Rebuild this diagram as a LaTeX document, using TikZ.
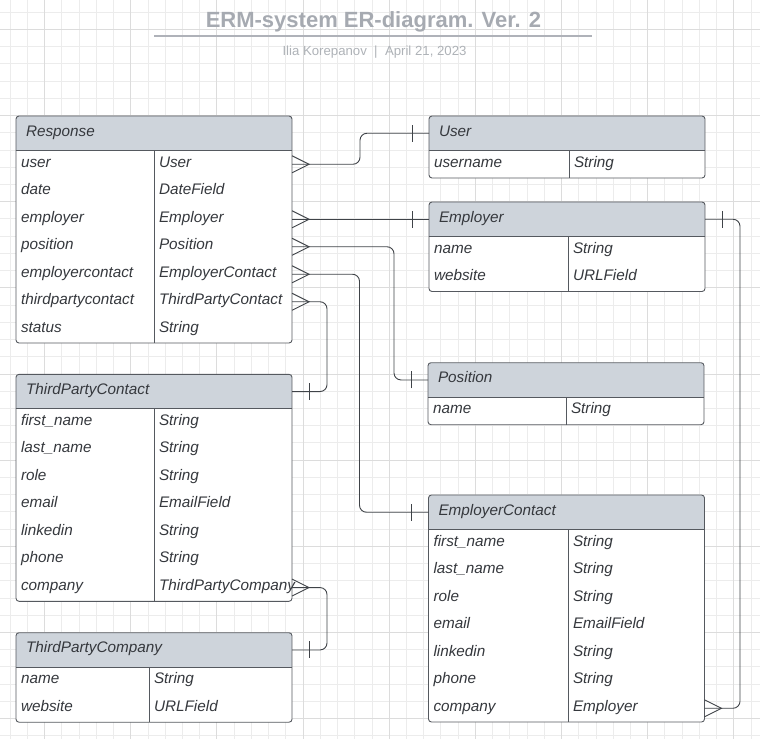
\documentclass[tikz,border=0pt]{standalone}
\usepackage{fontspec}
\setmainfont{Liberation Sans}
\definecolor{ink}{HTML}{35383D}
\definecolor{framecol}{HTML}{55595F}
\definecolor{linkcol}{HTML}{3F4348}
\definecolor{hdrfill}{HTML}{CED4DB}
\definecolor{titlegray}{HTML}{A6AAB1}
\definecolor{subgray}{HTML}{AEB2B7}
\definecolor{gridminor}{HTML}{ECECEC}
\definecolor{gridmajor}{HTML}{DCDCDC}
\newcommand{\fieldfont}{\itshape\fontsize{15.3}{18}\selectfont}
% name, top left, rows, divider, title, fields
\newcommand{\ertable}[6]{%
  \node[tbl, minimum height={34.5pt+27.5pt*#3}] (#1) at (#2) {};
  \node[hdr] (#1-h) at (#1.north west) {#5};
  \draw[rule] (#1-h.south west) -- (#1-h.south east);
  \draw[rule] ([xshift=#4pt]#1-h.south west) -- ([xshift=#4pt]#1.south west);
  \foreach \fname/\ftype [count=\i] in {#6} {
    \node[fld] (#1-\i) at ([xshift=5pt,yshift={13.75pt-27.5pt*\i}]#1-h.south west) {\fname};
    \node[fld] (#1-t\i) at ([xshift=#4pt]#1-\i.west) {\ftype};
  }%
}
\begin{document}
\begin{tikzpicture}[x=1pt,y=-1pt,
tbl/.style={
draw=framecol,
line width=0.9pt,
rounded corners=3pt,
fill=white,
anchor=north west,
minimum width=276pt,
inner sep=0pt,
outer sep=0pt,
path picture={\fill[hdrfill,sharp corners] (path picture bounding box.north west) rectangle ([yshift=-34.5pt]path picture bounding box.north east);}
},
hdr/.style={
anchor=north west,
text width=256pt,
inner xsep=10pt,
inner ysep=0pt,
outer sep=0pt,
minimum height=34.5pt,
align=left,
text height=9pt,
text depth=3.4pt,
font=\fieldfont,
text=ink
},
fld/.style={
anchor=west,
inner sep=0pt,
outer sep=0pt,
text height=9pt,
text depth=3.4pt,
font=\fieldfont,
text=ink
},
rule/.style={draw=framecol,line width=0.9pt},
tip/.style={draw=linkcol,line width=0.9pt},
link/.style={tip,rounded corners=7pt},
many/.pic={\draw[tip] (0,-8.5) -- (17,0) -- (0,8.5);},
one/.pic={\draw[tip] (17,-8.5) -- (17,8.5);},
]
\useasboundingbox (0,0) rectangle (760,739);

% grid
\foreach \k in {0,...,43} \draw[gridminor,line width=0.8pt] (10.1+17.23*\k,0) -- (10.1+17.23*\k,739);
\foreach \k in {0,...,42} \draw[gridminor,line width=0.8pt] (0,12.1+17.23*\k) -- (760,12.1+17.23*\k);
\foreach \k in {0,...,8} \draw[gridmajor,line width=0.8pt] (44.56+86.15*\k,0) -- (44.56+86.15*\k,739);
\foreach \k in {0,...,8} \draw[gridmajor,line width=0.8pt] (0,29.33+86.15*\k) -- (760,29.33+86.15*\k);

% title
\node (title) [anchor=base,font=\bfseries\fontsize{22}{26}\selectfont,text=titlegray] at (373.5,27.7) {ERM-system ER-diagram. Ver. 2};
\draw[titlegray!90,line width=1.8pt] (154,36) -- (592,36);
\node (author) [anchor=base,font=\fontsize{13.2}{16}\selectfont,text=subgray] at (374.5,55) {Ilia Korepanov~~|~~April 21, 2023};

% tables
\ertable{resp}{16,116}{7}{138}{Response}{user/User, date/DateField, employer/Employer, position/Position, employercontact/EmployerContact, thirdpartycontact/ThirdPartyContact, status/String}
\ertable{user}{429,116}{1}{140}{User}{username/String}
\ertable{empl}{429,202}{2}{139}{Employer}{name/String, website/URLField}
\ertable{pos}{428,362.7}{1}{138}{Position}{name/String}
\ertable{ec}{428.5,495}{7}{139.5}{EmployerContact}{first\_name/String, last\_name/String, role/String, email/EmailField, linkedin/String, phone/String, company/Employer}
\ertable{tpc}{16,374.3}{7}{138}{ThirdPartyContact}{first\_name/String, last\_name/String, role/String, email/EmailField, linkedin/String, phone/String, company/ThirdPartyCompany}
\ertable{tpco}{16,632.7}{2}{133}{ThirdPartyCompany}{name/String, website/URLField}

% relations
\draw[link] (resp.east |- resp-1) -| ([xshift=-69pt]user-h.west) -- (user-h.west);
\draw[link] (resp.east |- resp-3) -- (empl-h.west);
\draw[link] (resp.east |- resp-4) -| ([xshift=-34pt]pos-h.west) -- (pos-h.west);
\draw[link] (resp.east |- resp-5) -| ([xshift=-69pt]ec-h.west) -- (ec-h.west);
\draw[link] (resp.east |- resp-6) -| ([xshift=35pt]tpc-h.east) -- (tpc-h.east);
\draw[link] (tpc.east |- tpc-7) -| ([xshift=35pt]tpco-h.east) -- (tpco-h.east);
\draw[link] (ec.east |- ec-7) -| ([xshift=35pt]empl-h.east) -- (empl-h.east);

\foreach \r in {1,3,4,5,6} \path (resp.east |- resp-\r) pic {many};
\path (tpc.east |- tpc-7) pic {many};
\path (ec.east |- ec-7) pic {many};
\foreach \t in {user,empl,pos,ec} \path (\t-h.west) pic[rotate=180] {one};
\foreach \t in {tpc,tpco,empl} \path (\t-h.east) pic {one};
\end{tikzpicture}
\end{document}
